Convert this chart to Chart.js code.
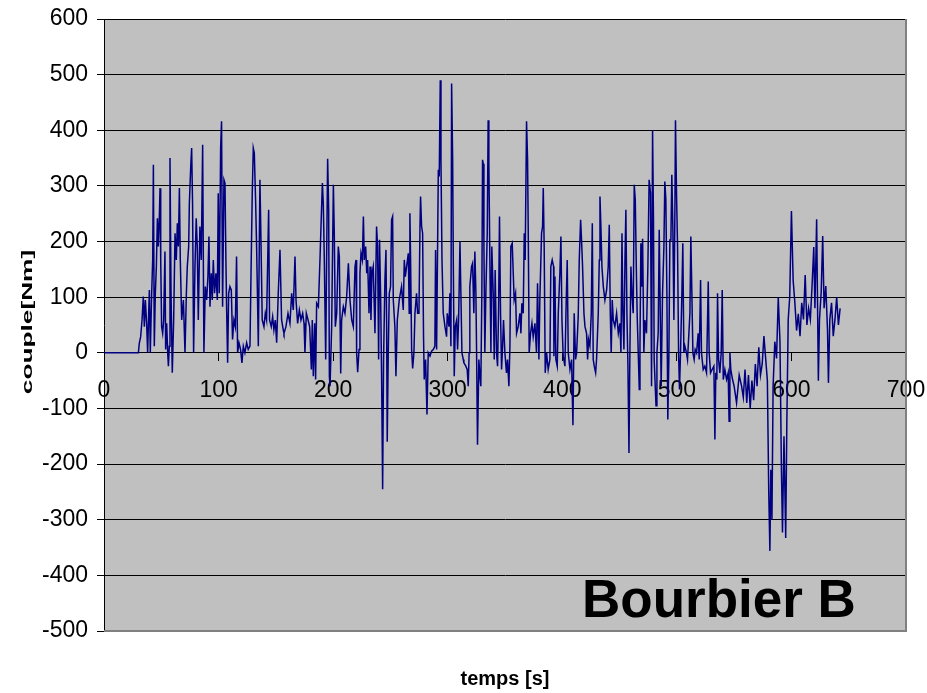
<!DOCTYPE html>
<html>
<head>
<meta charset="utf-8">
<title>Bourbier B</title>
<script src="https://cdn.jsdelivr.net/npm/chart.js@4.4.1/dist/chart.umd.min.js"></script>
<style>
  html, body { margin: 0; padding: 0; background: #fff; }
  canvas { display: block; }
</style>
</head>
<body>
<canvas id="chart" width="927" height="693"></canvas>
<script>
// temps [s] / couple [Nm]
const tA = [0, 30, 30.8, 32, 33.2, 34.3, 35.2, 36.1, 37.2, 38.1, 39, 39.6, 40.4, 41.6, 42.5, 43.1, 43.9, 44.8, 45.7, 46.6, 47.4, 48.3, 48.9, 49.5, 50.3, 51.2, 52.1, 53.2, 53.8, 54.7, 55.6, 56.2, 57, 57.6, 58.5, 59.6, 60.8, 62, 63.1, 64, 64.9, 65.8, 66.6, 67.8, 69.3, 70.7, 71.9, 72.7, 73.9, 74.5, 75.7, 76.5];
const cA = [0, 0, 17, 29, 59, 101, 47, 95, 53, 0, 72, 113, 0, 107, 167, 338, 12, 107, 155, 242, 191, 245, 296, 167, 47, 35, 59, 182, 6, 53, 0, -24, 12, 350, 107, -36, 59, 215, 167, 233, 191, 296, 167, 59, 95, 0, 107, 155, 191, 269, 335, 368];

const tB = [77.3, 78.2, 79.4, 80.5, 81.4, 82.3, 83.7, 84.9, 86.1, 87.2, 88.4, 89.6, 90.7, 91.6, 92.5, 93.6, 94.5, 95.4, 96.5, 97.7, 98.9, 99.7, 100.6, 101.8, 102.6, 103.5, 104.7, 105.6, 106.4, 107, 107.9, 108.8, 109.9, 111.1, 112.2, 113.4, 114.6, 115.7, 116.6, 117.8, 119.2, 120.4, 121.6, 123, 124.5, 125.9, 127.4, 128.5, 129.4, 130.3, 131.2, 132.3, 133.2, 134.7, 136.1, 137, 138.1, 139.6, 140.8, 141.9, 143.7, 144.5, 146, 147.2, 148.3, 149.5, 150.7, 152.1, 153.6, 155, 156.5];
const cB = [269, 0, 155, 242, 191, 59, 227, 167, 374, 0, 119, 95, 137, 209, 83, 143, 95, 167, 107, 143, 95, 287, 107, 368, 416, 83, 311, 305, 167, 83, -18, 107, 119, 113, 24, 59, 47, 173, 0, 18, 6, -18, 12, 0, 18, 6, 12, 167, 287, 368, 359, 275, 191, 12, 311, 203, 59, 47, 71, 59, 257, 59, 47, 65, 41, 59, 18, 107, 185, 59, 41];

const tC = [157.1, 158.8, 160.6, 162.3, 163.8, 165.2, 166.7, 167.6, 169, 170.5, 171.9, 173.4, 174.6, 175.4, 176.6, 178.1, 179.5, 181, 181.8, 182.7, 183.9, 184.7, 185.6, 187.1, 188.5, 189.4, 190.6, 191.4, 192.3, 193.5, 194.3, 195.2, 196.1, 196.7, 197.3, 198.7, 200.2, 201, 201.9, 203.1, 204.5, 205.4, 206.6, 207.4, 208.9, 210.3, 211.8, 213.3, 214.7, 216.2, 217.6, 219.1, 220, 220.5, 221.4, 222.6, 223.4, 224.3, 225.5, 226.4, 227.2, 228.4, 229.3, 230.1, 231.3, 232.2];
const cC = [35, 47, 71, 53, 107, 77, 173, 95, 53, 77, 59, 71, 53, 0, 71, 59, 47, -30, 59, -42, 53, -48, 89, 83, 167, 227, 305, 269, 167, -12, 167, 349, 257, -42, -60, 47, 302, 215, 47, 71, 191, 173, -37, 59, 83, 71, 101, 161, 95, 59, 47, 155, 167, 0, -35, 6, 143, 179, 167, 245, 167, 191, 143, 167, 71, 155];

const tD = [233, 233.9, 235, 236.5, 237.9, 238.8, 239.7, 240.5, 241.4, 242.3, 243.2, 244, 245.2, 246.1, 246.7, 247.2, 248.1, 249, 250.1, 251, 251.9, 252.5, 253.9, 254.8, 256, 257.7, 259.7, 261.2, 262.1, 263, 264.1, 265.6, 266.4, 267, 267.6, 268.5, 269.4, 270.5, 271.4, 272.8, 273.7, 274.9, 275.8, 276.3, 277.2, 278.1, 278.9, 279.5, 280.7, 281.9, 283, 284.5, 285.9, 287.4, 288.8, 289.4, 290.3, 291.8, 292.6, 293.5, 294.1, 295, 296.1, 297.6, 299, 299.6, 301.1, 301.9, 302.8, 303.4, 304.3, 304.9, 305.7, 306.6, 307.8, 308.6, 309.5, 310.7, 311.5, 312.4, 313.6];
const cD = [59, 143, 155, 35, 227, 191, -12, 203, 107, -42, -245, -12, 131, 185, 47, -160, 0, 107, 119, 239, 245, 95, 47, -42, 59, 95, 119, 77, 167, 137, 155, 179, 71, 251, 167, 6, -28, 0, 71, 107, 71, 71, 227, 281, 227, 215, 29, -48, -12, -111, 0, -6, 3, 6, 12, 185, 6, 329, 317, 490, 347, 167, 71, 47, 29, 71, 47, 107, 12, 484, 347, 155, -42, 47, 59, 6, 59, 200, 107, 0, -12];

const tE = [314.1, 315.8, 317, 317.9, 318.7, 319.3, 320.8, 321.7, 322.8, 323.7, 324.6, 325.2, 326, 327.2, 328.1, 328.9, 329.8, 330.4, 331, 331.6, 332.4, 333.3, 334.5, 335.3, 335.9, 336.8, 337.7, 338.5, 339.7, 340.6, 341.4, 342.6, 343.5, 344.4, 345.2, 346.1, 347, 347.9, 348.7, 349.9, 351.3, 352.2, 353.4, 354.3, 355.1, 356.3, 357.2, 358, 359.2, 360.1, 361.5, 363, 363.9, 364.7, 365.9, 366.8, 367.6, 368.8, 369.7, 370.3, 371.1, 372.3, 373.5, 374.6, 376.1, 377.5, 378.4, 379.6, 380.4, 381.9, 382.8, 383.4, 384.2, 385.1, 386.3, 387.7, 389.2, 390, 391.2, 392.4];
const cE = [-18, -24, -30, -60, 0, 119, 155, 161, 71, 182, 107, 0, -165, -12, -42, -60, 107, 347, 340, 191, 0, 107, 215, 418, 341, 167, 0, 191, 107, -12, 149, 0, -24, 77, 245, 71, -30, 12, 59, 0, -36, -12, -60, 12, 191, 197, 143, 95, 107, 35, 47, 71, 35, 89, 71, 215, 167, 416, 347, 215, 0, 35, 53, 29, 53, 0, 125, -12, 95, 215, 227, 296, 191, -36, 0, -30, -12, 155, 167, 155];

const tF = [392.7, 393.6, 394.4, 395.6, 396.5, 397.9, 398.8, 399.7, 400.8, 402.3, 403.2, 404.3, 405.2, 406.7, 408.1, 409.3, 410.4, 411.6, 412.5, 413.9, 414.8, 416, 416.8, 417.7, 418.9, 419.8, 421.2, 422.1, 422.9, 424.1, 425.3, 426.2, 427, 427.9, 429.1, 429.9, 431.4, 432.3, 432.9, 433.7, 434.6, 435.8, 437.2, 438.7, 440.1, 441, 441.9, 442.7, 443.6, 444.5, 445.9, 447.4, 448.9, 450.3, 451.2, 452.1, 452.9, 453.8, 454.7, 455.5, 456.4, 457.3, 458.2, 459, 459.9, 460.8, 461.9, 462.8, 463.7, 464.6, 465.4, 466.3, 467.2, 467.8, 468.6, 469.2, 470.1, 471.2];
const cF = [-6, 137, -12, -24, 71, 143, 209, 59, -6, -24, 71, 167, 0, -30, -12, -130, 71, -12, 0, 65, 167, 239, 203, 155, 71, 47, 35, -12, 24, 12, 71, 233, -12, -24, -36, -12, 71, 167, 281, 227, 155, 119, 95, 113, 155, 230, 71, 0, 95, 59, 47, 71, 35, 53, 0, 215, 71, 6, 167, 257, 71, -24, -180, 0, 155, 107, 71, 302, 275, 155, 65, 0, -66, 12, 197, 119, 205, 0];

const tG = [472.1, 473.5, 474.7, 475.8, 477, 477.9, 478.8, 479.6, 480.2, 481.8, 482.6, 483.7, 484.6, 485.5, 486.3, 487.5, 488.7, 489.5, 490.4, 491.3, 492.1, 493, 493.9, 494.8, 495.6, 496.5, 497.4, 498.3, 498.8, 499.7, 500.6, 501.5, 502.3, 503.2, 504.4, 505.2, 506.1, 507, 508.4, 509.3, 510.5, 511.4, 512.2, 513.1, 514, 515.1, 516, 517.2, 518.6, 519.5, 520.7, 521.5, 523, 524.4, 525.9, 527.4, 528.2, 529.4, 530.8, 532.3, 533.2, 534, 534.9, 535.5, 536.4, 537.5, 538.7, 539.6, 540.5, 541.9, 543.4, 544.8, 545.6, 546.3, 547.1, 548.6, 550, 552.1, 554.4];
const cG = [59, 35, 155, 311, 287, -60, 400, 239, -12, -95, 0, 35, 221, 71, -60, 107, 191, 308, 275, 107, -120, -12, 203, 203, 320, 227, 59, 257, 418, 287, 191, 0, -66, 0, 107, 197, 0, 12, 0, -12, 35, 71, 209, 107, 0, -12, 6, 0, 35, -12, 131, 0, -30, -24, -36, 128, 0, -36, -30, -24, -156, -36, -48, 107, -12, -36, 0, 113, -48, -30, -48, -36, -123, 0, -30, -48, -60, -90, -40];

const tH = [556.5, 558, 559.5, 561, 562.5, 564, 565.5, 567, 568.5, 570, 571.5, 573, 574.5, 576, 577.5, 579, 580.2, 581.2, 582, 583, 584, 585.5, 587, 588.5, 590, 591.2, 592.2, 593.5, 595, 596, 597.2, 598.5, 600, 601.5, 603, 604.5, 606, 607.5, 609, 610.5, 612, 613.5, 615, 616.5, 618, 619.5, 620.5, 622, 623.5, 624.5, 626, 627.3, 628.5, 630, 631.5, 632.3, 633.5, 635, 636.5, 638, 639.5, 641, 642.5];
const cH = [-60, -80, -30, -90, -40, -100, -50, -85, -20, -60, 10, -40, -20, 30, -10, -50, -250, -356, -210, -300, -60, 20, -10, 100, 20, -200, -323, -150, -333, -124, 60, 100, 255, 130, 90, 40, 70, 30, 90, 60, 140, 50, 80, 60, 120, 190, 80, 240, -50, 60, 110, 210, 80, 120, 40, -54, 60, 90, 30, 60, 100, 50, 80];

const xTickLabels = ['0', '100', '200', '300', '400', '500', '600', '700'];

const temps = [].concat(tA, tB, tC, tD, tE, tF, tG, tH);
const couple = [].concat(cA, cB, cC, cD, cE, cF, cG, cH);
if (temps.length !== couple.length) console.error('length mismatch', temps.length, couple.length);

const tickFont = { family: '"Liberation Sans Narrow", "Arial Narrow", "Liberation Sans", Arial, sans-serif', size: 23 };

const plotFrame = {
  id: 'plotFrame',
  beforeDraw(chart) {
    const { ctx, chartArea: a } = chart;
    ctx.save();
    ctx.fillStyle = '#c0c0c0';
    ctx.fillRect(a.left, a.top, a.right - a.left, a.bottom - a.top);
    ctx.restore();
  },
  beforeDatasetsDraw(chart) {
    const { ctx, chartArea: a } = chart;
    ctx.save();
    ctx.strokeStyle = '#808080';
    ctx.lineWidth = 2;
    ctx.beginPath();
    ctx.moveTo(a.right, a.top);
    ctx.lineTo(a.right, a.bottom);
    ctx.lineTo(a.left, a.bottom);
    ctx.stroke();
    ctx.restore();
  },
  afterDraw(chart) {
    const { ctx, chartArea: a } = chart;
    ctx.save();
    ctx.fillStyle = '#000';
    // x title
    ctx.font = 'bold 20px "Liberation Sans", Arial, sans-serif';
    ctx.textAlign = 'center';
    ctx.textBaseline = 'middle';
    ctx.fillText('temps [s]', (a.left + a.right) / 2, 679);
    // y title, drawn stretched like the original
    ctx.save();
    ctx.translate(28, 322);
    ctx.rotate(-Math.PI / 2);
    ctx.scale(1.75, 1);
    ctx.font = 'bold 15px "Liberation Sans", Arial, sans-serif';
    ctx.fillText('couple[Nm]', 0, 0);
    ctx.restore();
    // label inside the plot
    ctx.font = 'bold 53px "Liberation Sans", Arial, sans-serif';
    ctx.textAlign = 'left';
    ctx.textBaseline = 'alphabetic';
    ctx.fillText('Bourbier B', 582, 617);
    ctx.restore();
  }
};

new Chart(document.getElementById('chart'), {
  type: 'line',
  data: {
    datasets: [{
      label: 'couple',
      data: temps.map((t, i) => ({ x: t, y: couple[i] })),
      borderColor: '#000080',
      borderWidth: 1.5,
      pointRadius: 0,
      fill: false,
      tension: 0,
    }],
  },
  options: {
    responsive: false,
    animation: false,
    layout: { padding: { top: 19, right: 21, bottom: 62, left: 0 } },
    plugins: {
      legend: { display: false },
      tooltip: { enabled: false },
    },
    scales: {
      x: {
        type: 'linear',
        min: 0,
        max: 700,
        position: { y: 0 },
        ticks: {
          stepSize: 100,
          color: '#000',
          font: tickFont,
          padding: 16,
          maxRotation: 0,
          autoSkip: false,
          callback: (v, i) => xTickLabels[i],
        },
        grid: { drawOnChartArea: false, color: '#000', tickLength: 8 },
        border: { color: '#000' },
        afterFit(scale) { scale.paddingLeft = 0; scale.paddingRight = 0; },
      },
      y: {
        min: -500,
        max: 600,
        ticks: { stepSize: 100, color: '#000', font: tickFont, padding: 9 },
        grid: { color: '#000', tickLength: 7 },
        border: { color: '#000' },
        afterFit(scale) {
          scale.width = 104;
          scale.paddingTop = 0;
          scale.paddingBottom = 0;
        },
      },
    },
  },
  plugins: [plotFrame],
});
</script>
</body>
</html>
